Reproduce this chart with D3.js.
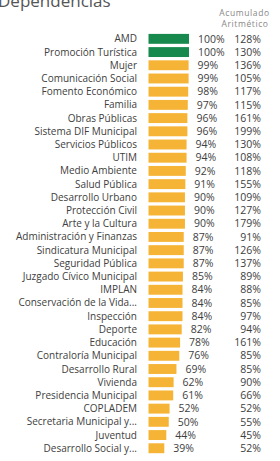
<!DOCTYPE html>
<html>
<head>
<meta charset="utf-8">
<script src="https://cdn.jsdelivr.net/npm/d3@7"></script>
<style>
  body { margin: 0; background: #fff; }
  svg { display: block; font-family: 'Open Sans', sans-serif; }
</style>
</head>
<body>
<svg></svg>
<script>
var categories = ['AMD', 'Promoción Turística', 'Mujer', 'Comunicación Social', 'Fomento Económico',
  'Familia', 'Obras Públicas', 'Sistema DIF Municipal', 'Servicios Públicos', 'UTIM',
  'Medio Ambiente', 'Salud Pública', 'Desarrollo Urbano', 'Protección Civil', 'Arte y la Cultura',
  'Administración y Finanzas', 'Sindicatura Municipal', 'Seguridad Pública', 'Juzgado Cívico Municipal',
  'IMPLAN', 'Conservación de la Vida...', 'Inspección', 'Deporte', 'Educación', 'Contraloría Municipal',
  'Desarrollo Rural', 'Vivienda', 'Presidencia Municipal', 'COPLADEM', 'Secretaria Municipal y...',
  'Juventud', 'Desarrollo Social y...'];
var avance = [100, 100, 99, 99, 98, 97, 96, 96, 94, 94, 92, 91, 90, 90, 90, 87, 87, 87, 85, 84, 84, 84,
  82, 78, 76, 69, 62, 61, 52, 50, 44, 39];
var acumulado = [128, 130, 136, 105, 117, 115, 161, 199, 130, 108, 118, 155, 109, 127, 179, 91, 126, 137,
  89, 88, 85, 97, 94, 161, 85, 85, 90, 66, 52, 55, 45, 52];

var width = 280, height = 461;
var svg = d3.select('svg').attr('width', width).attr('height', height);

var x = d3.scaleLinear().domain([0, 100]).range([148.5, 189]);
var y = d3.scaleBand().domain(categories).range([30.6, 456.5]).padding(0.25);

var rows = categories.map(function(c, i) {
  return { name: c, v: avance[i], acc: acumulado[i] };
});

// titulo cortado arriba, como en la captura
svg.append('text')
  .attr('x', -2).attr('y', 7)
  .attr('font-size', 17).attr('fill', '#555')
  .text('Dependencias');

svg.append('text').attr('x', 244.5).attr('y', 16)
  .attr('text-anchor', 'middle').attr('font-size', 8.5)
  .attr('letter-spacing', 0.6).attr('fill', '#888')
  .text('Acumulado');
svg.append('text').attr('x', 245).attr('y', 26.5)
  .attr('text-anchor', 'middle').attr('font-size', 8.5)
  .attr('letter-spacing', 0.6).attr('fill', '#888')
  .text('Aritmético');

var g = svg.append('g');

g.selectAll('rect').data(rows).enter().append('rect')
  .attr('x', x(0))
  .attr('y', function(d) { return y(d.name); })
  .attr('width', function(d) { return x(d.v) - x(0); })
  .attr('height', y.bandwidth())
  .attr('fill', function(d) { return d.v >= 100 ? '#17894c' : '#f6b437'; });

g.selectAll('text.cat').data(rows).enter().append('text')
  .attr('class', 'cat')
  .attr('x', 137)
  .attr('y', function(d) { return y(d.name) + y.bandwidth() / 2; })
  .attr('dy', '0.35em')
  .attr('text-anchor', 'end')
  .attr('font-size', 10).attr('fill', '#404040')
  .text(function(d) { return d.name; });

g.selectAll('text.val').data(rows).enter().append('text')
  .attr('class', 'val')
  .attr('x', function(d) { return x(d.v) + 9; })
  .attr('y', function(d) { return y(d.name) + y.bandwidth() / 2; })
  .attr('dy', '0.35em')
  .attr('font-size', 10.5).attr('fill', '#404040')
  .text(function(d) { return d.v + '%'; });

g.selectAll('text.acc').data(rows).enter().append('text')
  .attr('class', 'acc')
  .attr('x', 261)
  .attr('y', function(d) { return y(d.name) + y.bandwidth() / 2; })
  .attr('dy', '0.35em')
  .attr('text-anchor', 'end')
  .attr('font-size', 10.5).attr('fill', '#404040')
  .text(function(d) { return d.acc + '%'; });
</script>
</body>
</html>
